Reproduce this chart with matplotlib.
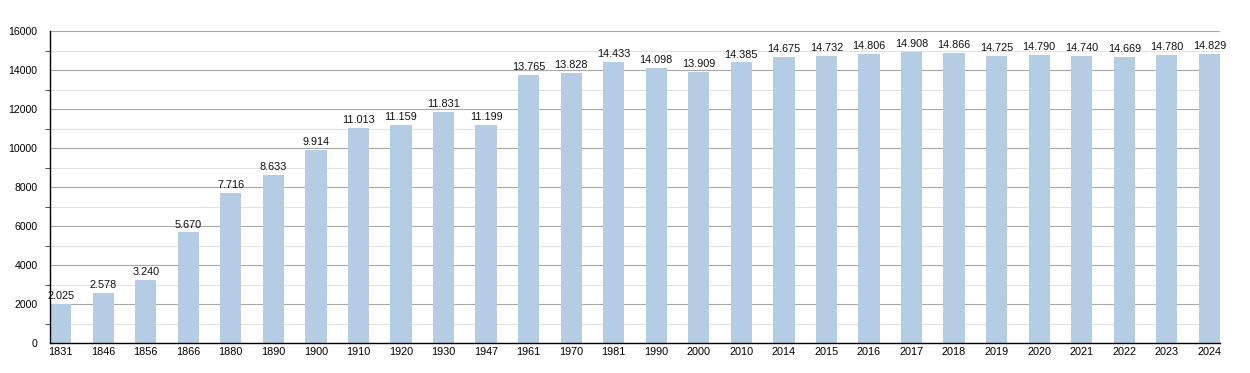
import numpy as np
import matplotlib.pyplot as plt
from matplotlib.ticker import MultipleLocator

years = ['1831', '1846', '1856', '1866', '1880', '1890', '1900', '1910', '1920', '1930',
         '1947', '1961', '1970', '1981', '1990', '2000', '2010', '2014', '2015', '2016',
         '2017', '2018', '2019', '2020', '2021', '2022', '2023', '2024']
population = [2025, 2578, 3240, 5670, 7716, 8633, 9914, 11013, 11159, 11831,
              11199, 13765, 13828, 14433, 14098, 13909, 14385, 14675, 14732, 14806,
              14908, 14866, 14725, 14790, 14740, 14669, 14780, 14829]

plt.rcParams['font.family'] = ['Liberation Sans', 'DejaVu Sans']

fig = plt.figure(figsize=(12.5, 3.73), dpi=100)
ax = fig.add_axes([50 / 1250, 30 / 373, 1170 / 1250, 312 / 373])

x = np.arange(len(years))
ax.bar(x, population, width=0.5, color='#b4cce4', zorder=2)

# value labels use a dot as thousands separator
for xi, v in zip(x, population):
    label = f'{v:,}'.replace(',', '.')
    ax.text(xi, v + 150, label, ha='center', va='bottom', fontsize=7.8, color='#111111')

ax.set_xlim(-0.25, len(years) - 0.75)
ax.set_ylim(0, 16000)
ax.set_xticks(x)
ax.set_xticklabels(years, fontsize=7.8)
ax.yaxis.set_major_locator(MultipleLocator(2000))
ax.yaxis.set_minor_locator(MultipleLocator(1000))
ax.tick_params(axis='y', which='major', length=0, labelsize=7.6, pad=9)
ax.tick_params(axis='y', which='minor', length=3.5, color='#333333')
ax.tick_params(axis='x', length=0, pad=3)

ax.grid(axis='y', which='major', color='#a8a8a8', linewidth=0.8, zorder=0)
ax.grid(axis='y', which='minor', color='#e2e2e2', linewidth=0.8, zorder=0)
ax.set_axisbelow(True)

for s in ['top', 'right']:
    ax.spines[s].set_visible(False)
ax.spines['left'].set_linewidth(1.0)
ax.spines['bottom'].set_linewidth(1.0)

fig.savefig('out.png', dpi=100)
